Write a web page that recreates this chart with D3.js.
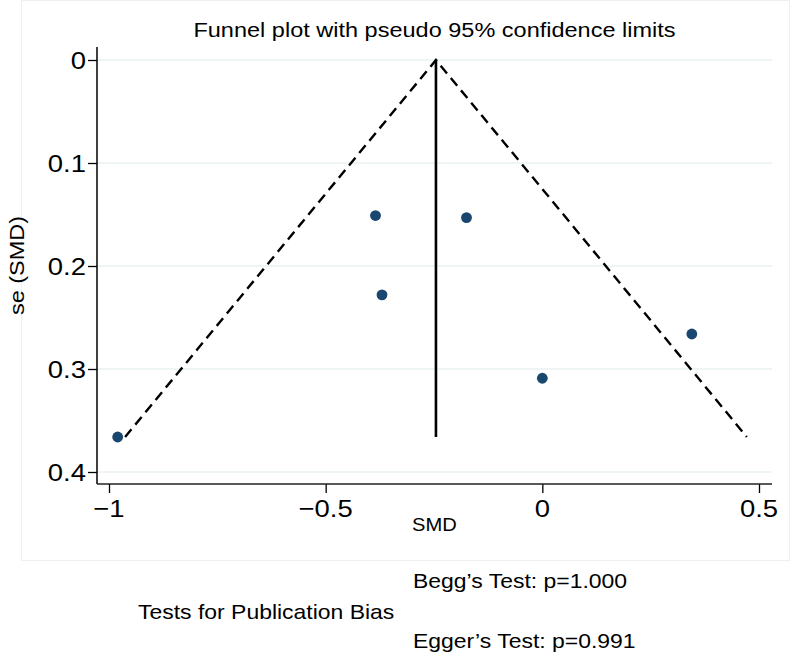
<!DOCTYPE html>
<html>
<head>
<meta charset="utf-8">
<script src="https://cdn.jsdelivr.net/npm/d3@7"></script>
<style>
  html, body { margin: 0; padding: 0; background: #ffffff; }
  svg { display: block; }
  text { font-family: "Liberation Sans", Arial, Helvetica, sans-serif; fill: #000; }
</style>
</head>
<body>
<div id="chart"></div>
<script>
// ---- data ----
const studySMD = [-0.98, -0.385, -0.37, -0.175, 0.0, 0.345];
const studySE  = [0.366, 0.151, 0.228, 0.153, 0.309, 0.266];
const pooledSMD = -0.2455;
const xTicks = [-1, -0.5, 0, 0.5];
const xTickLabels = ["\u22121", "\u22120.5", "0", "0.5"];
const yTicks = [0, 0.1, 0.2, 0.3, 0.4];
const yTickLabels = ["0", "0.1", "0.2", "0.3", "0.4"];
const titleText = "Funnel plot with pseudo 95% confidence limits";
const xTitle = "SMD";
const yTitle = "se (SMD)";
const noteLabel = "Tests for Publication Bias";
const noteTests = ["Begg\u2019s Test: p=1.000", "Egger\u2019s Test: p=0.991"];

// ---- layout ----
const W = 792, H = 656;
const plot = { left: 97, right: 772, top: 47, bottom: 484 };
const SX = 1.12; // horizontal stretch of the original's lettering

const svg = d3.select("#chart").append("svg").attr("width", W).attr("height", H);

svg.append("rect").attr("x", 21.5).attr("y", 0.5).attr("width", 768).attr("height", 560)
  .attr("fill", "#fff").attr("stroke", "#edf1f2").attr("stroke-width", 1.2);

const x = d3.scaleLinear().domain([-1, 0.5]).range([109, 759]);
const y = d3.scaleLinear().domain([0, 0.4]).range([60, 472]);

function label(g, txt, px, py, size, anchor, rot) {
  return g.append("text")
    .attr("transform", `translate(${px},${py})` + (rot ? ` rotate(${rot})` : "") + ` scale(${SX},1)`)
    .attr("font-size", size)
    .attr("text-anchor", anchor || "start")
    .text(txt);
}

// gridlines
svg.append("g").selectAll("line").data(yTicks).join("line")
  .attr("x1", plot.left).attr("x2", plot.right)
  .attr("y1", d => y(d)).attr("y2", d => y(d))
  .attr("stroke", "#eaf1f1").attr("stroke-width", 1.6);

// axes via d3
const yAxis = d3.axisLeft(y).tickValues(yTicks).tickSize(9).tickFormat("");
const yg = svg.append("g").attr("transform", `translate(${plot.left},0)`).call(yAxis);
yg.select(".domain").remove();
yg.selectAll(".tick line").attr("stroke", "#000").attr("stroke-width", 1.3);
svg.append("line").attr("x1", plot.left).attr("x2", plot.left)
  .attr("y1", plot.top).attr("y2", plot.bottom).attr("stroke", "#000").attr("stroke-width", 1.5);

const xAxis = d3.axisBottom(x).tickValues(xTicks).tickSize(9).tickFormat("");
const xg = svg.append("g").attr("transform", `translate(0,${plot.bottom})`).call(xAxis);
xg.select(".domain").remove();
xg.selectAll(".tick line").attr("stroke", "#000").attr("stroke-width", 1.3);
svg.append("line").attr("x1", plot.left).attr("x2", plot.right)
  .attr("y1", plot.bottom).attr("y2", plot.bottom).attr("stroke", "#222").attr("stroke-width", 1.5);

// tick labels
const tl = svg.append("g");
yTicks.forEach((v, i) => label(tl, yTickLabels[i], 86, y(v) + 8.5, 24.5, "end"));
xTicks.forEach((v, i) => label(tl, xTickLabels[i], x(v), 517, 24.5, "middle"));

// funnel
const seMax = d3.max(studySE);
const funnel = [[pooledSMD - 1.96 * seMax, seMax], [pooledSMD, 0], [pooledSMD + 1.96 * seMax, seMax]];
svg.append("path")
  .attr("d", d3.line().x(d => x(d[0])).y(d => y(d[1]))(funnel))
  .attr("fill", "none").attr("stroke", "#000").attr("stroke-width", 2.4)
  .attr("stroke-dasharray", "10,6");
svg.append("line")
  .attr("x1", x(pooledSMD)).attr("x2", x(pooledSMD))
  .attr("y1", y(0)).attr("y2", y(seMax))
  .attr("stroke", "#000").attr("stroke-width", 2.6);

// points
svg.append("g").selectAll("circle").data(studySMD).join("circle")
  .attr("cx", d => x(d)).attr("cy", (d, i) => y(studySE[i])).attr("r", 5.4)
  .attr("fill", "#1a476f");

// titles
label(svg, titleText, (plot.left + plot.right) / 2, 37, 21, "middle");
label(svg, xTitle, (plot.left + plot.right) / 2, 531, 18, "middle");
label(svg, yTitle, 24, (plot.top + plot.bottom) / 2, 21, "middle", -90);

// notes
label(svg, noteTests[0], 413, 588, 20.5, "start");
label(svg, noteLabel, 138, 619, 20.5, "start");
label(svg, noteTests[1], 413, 648, 20.5, "start");
</script>
</body>
</html>
